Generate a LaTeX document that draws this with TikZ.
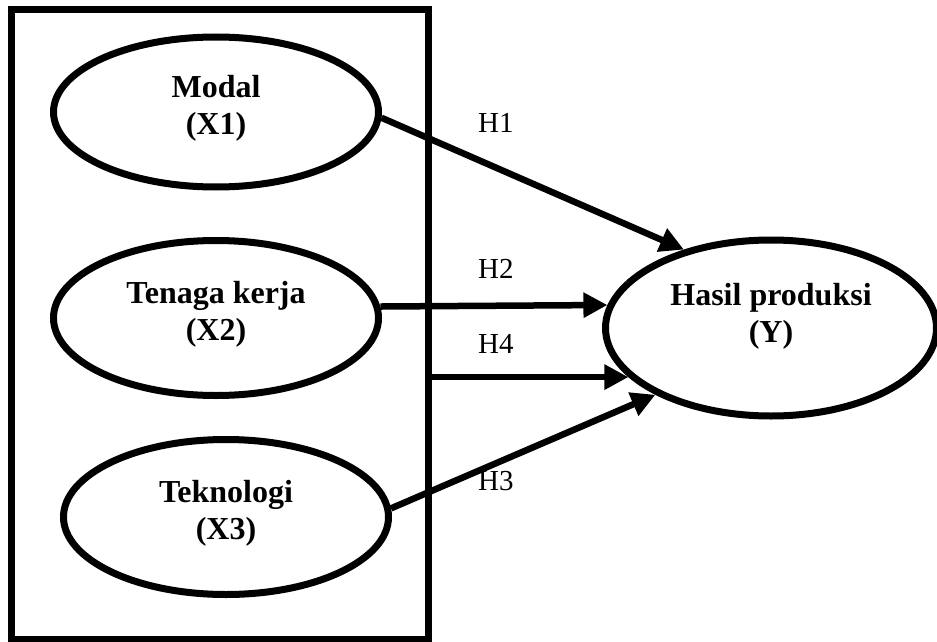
\documentclass[tikz,border=0pt]{standalone}
\usepackage{fontspec}
\setmainfont{Liberation Serif}
\usetikzlibrary{arrows.meta,positioning,shapes.geometric}

\begin{document}
\begin{tikzpicture}[
    x=1pt, y=-1pt,
    construct/.style={ellipse, draw=black, line width=7pt, minimum width=325pt, minimum height=155pt, inner sep=0pt, text depth=15pt, font=\fontsize{32}{37}\selectfont\bfseries, align=center},
    hypo/.style={font=\fontsize{29}{34}\selectfont, anchor=base west, inner sep=0pt},
    effect/.style={-{Triangle[length=24pt, width=24pt]}, line width=6.5pt}
]
    \useasboundingbox (0,0) rectangle (937,642);

    \node (group) [draw, line width=7pt, minimum width=417pt, minimum height=629pt, inner sep=0pt] at (219.5,324.5) {};

    \node (modal) [construct, minimum height=150pt] at (216,112) {Modal\\(X1)};
    \node (tenaga) [construct] at (216,318) {Tenaga kerja\\(X2)};
    \node (tekno) [construct] at (226,517) {Teknologi\\(X3)};
    \node (hasil) [construct, minimum width=331pt, minimum height=176pt, text depth=30pt] at (771,328) {Hasil produksi\\(Y)};

    \draw [effect] (modal.-2) -- (hasil.138);
    \draw [effect] (tenaga.4) -- (hasil.172);
    \draw [effect] (group.east |- hasil.199) -- (hasil.199);
    \draw [effect] (tekno.3.5) -- (hasil.210);

    \node (h1) [hypo] at (478,132) {H1};
    \node (h2) [hypo] at (478,278) {H2};
    \node (h4) [hypo] at (478,353) {H4};
    \node (h3) [hypo] at (478,490) {H3};
\end{tikzpicture}
\end{document}
